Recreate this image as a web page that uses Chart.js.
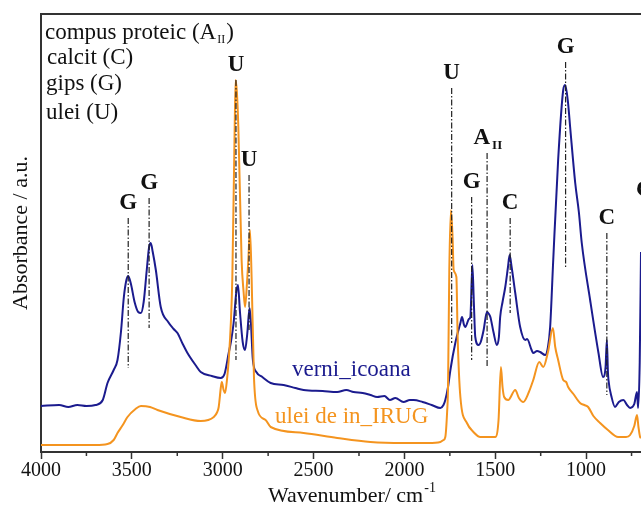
<!DOCTYPE html>
<html>
<head>
<meta charset="utf-8">
<script src="https://cdn.jsdelivr.net/npm/chart.js@4/dist/chart.umd.min.js"></script>
<style>
    html, body { margin: 0; padding: 0; background: #fff; overflow: hidden; }
    #wrap { width: 641px; height: 510px; position: relative; }
</style>
</head>
<body>
<div id="wrap"><canvas id="spectru"></canvas></div>
<script>
// ==================== date ====================
// [numar de unda cm-1, absorbanta u.a.]
const verniIcoana = [
    [4000, 46], [3900, 47], [3850, 45], [3800, 47], [3750, 46], [3700, 47], [3660, 52], [3634, 69],
    [3600, 82], [3579, 92], [3560, 120], [3544, 155], [3530, 172], [3520, 176], [3505, 168],
    [3485, 150], [3465, 140], [3450, 139], [3435, 150], [3418, 182], [3405, 205], [3396, 209],
    [3385, 200], [3368, 182], [3341, 145], [3300, 130], [3270, 123], [3249, 119], [3220, 108],
    [3194, 99], [3150, 87], [3121, 80], [3060, 76], [3011, 74], [2990, 78], [2967, 99],
    [2955, 110], [2940, 129], [2925, 160], [2916, 167], [2905, 140], [2890, 110], [2877, 102],
    [2865, 118], [2852, 144], [2845, 130], [2834, 92], [2815, 80], [2782, 75], [2736, 69],
    [2665, 67], [2600, 64], [2555, 62], [2450, 61], [2370, 60], [2320, 62], [2280, 60],
    [2230, 59], [2187, 57], [2150, 55], [2110, 56], [2080, 52], [2050, 54], [2005, 50],
    [1970, 52], [1949, 52], [1900, 50], [1850, 47], [1802, 44], [1785, 47], [1775, 52],
    [1760, 65], [1747, 82], [1720, 109], [1692, 129], [1683, 135], [1672, 127], [1665, 125],
    [1645, 133], [1637, 135], [1626, 187], [1618, 150], [1610, 115], [1592, 107], [1580, 110],
    [1564, 122], [1546, 140], [1535, 138], [1527, 135], [1510, 120], [1491, 107], [1480, 115],
    [1473, 135], [1460, 150], [1445, 165], [1430, 185], [1421, 197], [1410, 185], [1390, 159],
    [1363, 125], [1335, 112], [1325, 113], [1300, 102], [1291, 99], [1270, 101], [1253, 100],
    [1225, 97], [1210, 105], [1198, 125], [1181, 192], [1154, 292], [1126, 362], [1115, 367],
    [1100, 350], [1088, 325], [1060, 269], [1040, 240], [1024, 209], [978, 152], [932, 99],
    [907, 75], [893, 85], [886, 112], [880, 80], [877, 72], [860, 55], [841, 45], [820, 50],
    [795, 52], [775, 47], [758, 44], [735, 48], [720, 60], [714, 44], [705, 90], [698, 200]
]

const uleiDeIn = [
    [4000, 7], [3700, 7], [3634, 8], [3600, 12], [3579, 19], [3550, 27], [3524, 35], [3480, 43],
    [3450, 46], [3400, 45], [3359, 42], [3231, 35], [3121, 31], [3049, 35], [3030, 40],
    [3022, 45], [3010, 65], [3005, 70], [2995, 62], [2987, 59], [2975, 75], [2967, 92],
    [2955, 130], [2947, 175], [2934, 325], [2929, 372], [2922, 360], [2914, 325], [2896, 192],
    [2885, 160], [2877, 145], [2866, 170], [2859, 192], [2850, 222], [2841, 175], [2828, 75],
    [2809, 42], [2764, 32], [2736, 25], [2555, 19], [2370, 14], [2187, 10], [2005, 9],
    [1868, 9], [1802, 10], [1785, 12], [1775, 15], [1765, 40], [1760, 65], [1753, 182],
    [1744, 242], [1735, 215], [1729, 182], [1714, 175], [1707, 115], [1692, 55], [1656, 29],
    [1620, 20], [1582, 15], [1500, 15], [1482, 32], [1469, 85], [1460, 65], [1451, 55],
    [1429, 52], [1390, 62], [1370, 54], [1346, 50], [1315, 60], [1291, 72], [1258, 90],
    [1236, 85], [1210, 100], [1183, 124], [1170, 105], [1154, 92], [1126, 72], [1110, 70],
    [1099, 65], [1070, 58], [1033, 49], [1010, 47], [989, 45], [960, 36], [923, 29],
    [880, 22], [824, 15], [780, 15], [758, 17], [735, 26], [720, 37], [712, 25], [703, 15], [698, 14]
]

const xTickValues = [4000, 3500, 3000, 2500, 2000, 1500, 1000]
const xMinorTicks = [3750, 3250, 2750, 2250, 1750, 1250, 750]

// benzi atribuite
const peakWn = [3520, 3405, 2927, 2855, 1740, 1630, 1545, 1418, 1113, 886, 676]
const peakLabels = ['G', 'G', 'U', 'U', 'U', 'G', 'A', 'C', 'G', 'C', 'G']
const peakTop = [234, 254, 372, 277, 364, 255, 299, 234, 390, 219, 247]
const peakBottom = [84, 124, 92, 122, 109, 92, 86, 139, 184, 57, 60]

const legendLines = ['compus proteic (A', 'calcit (C)', 'gips (G)', 'ulei (U)']

const BLUE = '#1b1b8e'
const ORANGE = '#f4941f'
const SERIF = '"Liberation Serif", "Times New Roman", serif'

// ==================== adnotari ====================
const overlayPlugin = {
    id: 'overlay',
    afterDatasetsDraw(chart) {
        const { ctx, chartArea, scales } = chart
        const x = scales.x
        const y = scales.y
        ctx.save()

        // rama sus
        ctx.strokeStyle = '#333'
        ctx.lineWidth = 2
        ctx.beginPath()
        ctx.moveTo(chartArea.left, chartArea.top)
        ctx.lineTo(chart.width, chartArea.top)
        ctx.stroke()

        // gradatii secundare
        ctx.lineWidth = 1.5
        xMinorTicks.forEach(v => {
            const px = x.getPixelForValue(v)
            ctx.beginPath()
            ctx.moveTo(px, chartArea.bottom)
            ctx.lineTo(px, chartArea.bottom + 4)
            ctx.stroke()
        })

        // linii de atribuire
        ctx.strokeStyle = '#222'
        ctx.lineWidth = 1.2
        ctx.setLineDash([6, 2, 1.5, 2])
        peakWn.forEach((wn, i) => {
            const px = x.getPixelForValue(wn)
            ctx.beginPath()
            ctx.moveTo(px, y.getPixelForValue(peakTop[i]))
            ctx.lineTo(px, y.getPixelForValue(peakBottom[i]))
            ctx.stroke()
        })
        ctx.setLineDash([])

        ctx.fillStyle = '#111'
        ctx.textBaseline = 'alphabetic'
        peakWn.forEach((wn, i) => {
            const px = x.getPixelForValue(wn)
            const base = y.getPixelForValue(peakTop[i]) - 9
            ctx.font = 'bold 23px ' + SERIF
            if (peakLabels[i] === 'A') {
                ctx.textAlign = 'right'
                ctx.fillText('A', px + 3, base)
                ctx.font = 'bold 13px ' + SERIF
                ctx.textAlign = 'left'
                ctx.fillText('II', px + 5, base + 5)
            } else {
                ctx.textAlign = 'center'
                ctx.fillText(peakLabels[i], px, base)
            }
        })

        // legenda text
        ctx.textAlign = 'left'
        ctx.fillStyle = '#111'
        const baselines = [39, 64, 90, 119]
        const lefts = [45, 47, 46, 46]
        legendLines.forEach((t, i) => {
            ctx.font = '23px ' + SERIF
            ctx.fillText(t, lefts[i], baselines[i])
            if (i === 0) {
                let w = ctx.measureText(t).width + lefts[i]
                ctx.font = '12px ' + SERIF
                ctx.fillText('II', w + 1, baselines[i] + 4)
                w += ctx.measureText('II').width + 2
                ctx.font = '23px ' + SERIF
                ctx.fillText(')', w, baselines[i])
            }
        })

        // etichete serii
        ctx.font = '23px ' + SERIF
        ctx.fillStyle = BLUE
        ctx.fillText('verni_icoana', 292, 376)
        ctx.fillStyle = ORANGE
        ctx.fillText('ulei de in_IRUG', 275, 423)

        // titlu axa x
        ctx.fillStyle = '#111'
        ctx.font = '22px ' + SERIF
        const t1 = 'Wavenumber/ cm'
        ctx.fillText(t1, 268, 502)
        const w1 = ctx.measureText(t1).width
        ctx.font = '14px ' + SERIF
        ctx.fillText('-1', 268 + w1 + 1, 492)

        ctx.restore()
    }
}

// ==================== grafic ====================
new Chart(document.getElementById('spectru'), {
    type: 'line',
    data: {
        datasets: [{
            label: 'ulei de in_IRUG',
            data: uleiDeIn.map(p => ({ x: p[0], y: p[1] })),
            borderColor: ORANGE,
            borderWidth: 2,
            pointRadius: 0,
            cubicInterpolationMode: 'monotone'
        }, {
            label: 'verni_icoana',
            data: verniIcoana.map(p => ({ x: p[0], y: p[1] })),
            borderColor: BLUE,
            borderWidth: 2,
            pointRadius: 0,
            cubicInterpolationMode: 'monotone'
        }]
    },
    options: {
        responsive: true,
        maintainAspectRatio: false,
        animation: false,
        layout: { padding: { top: 14, left: 0, right: 0, bottom: 0 } },
        plugins: {
            legend: { display: false },
            tooltip: { enabled: false }
        },
        scales: {
            x: {
                type: 'linear',
                reverse: true,
                min: 698,
                max: 4000,
                afterBuildTicks: (scale) => {
                    scale.ticks = xTickValues.map(v => ({ value: v }))
                },
                afterFit: (scale) => { scale.height = 58 },
                ticks: {
                    padding: 0,
                    color: '#111',
                    font: { family: SERIF, size: 20 },
                    maxRotation: 0,
                    callback: (v) => String(v)
                },
                grid: {
                    drawOnChartArea: false,
                    tickLength: 7,
                    tickWidth: 1.5,
                    tickColor: '#333'
                },
                border: { display: true, color: '#333', width: 2 }
            },
            y: {
                min: 0,
                max: 438,
                afterFit: (scale) => { scale.width = 41 },
                ticks: { display: false },
                grid: { display: false },
                border: { display: true, color: '#333', width: 2 },
                title: {
                    display: true,
                    text: 'Absorbance / a.u.',
                    color: '#111',
                    font: { family: SERIF, size: 22 },
                    padding: { top: 8, bottom: 0 }
                }
            }
        }
    },
    plugins: [overlayPlugin]
})
</script>
</body>
</html>
